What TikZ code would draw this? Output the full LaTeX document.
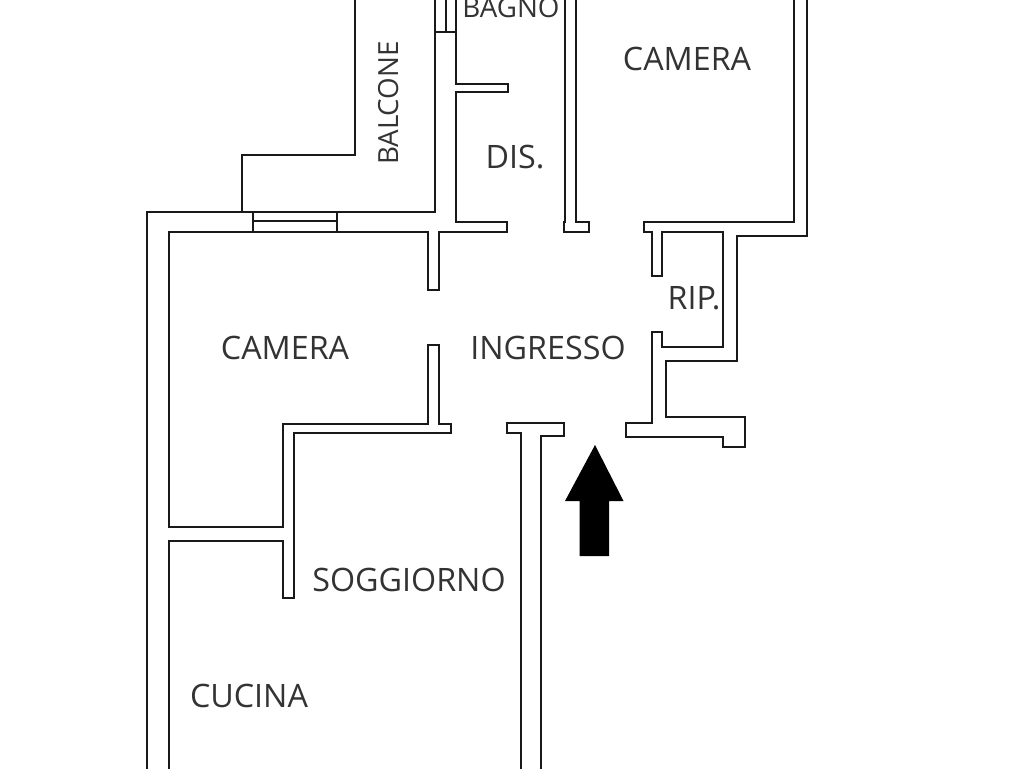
\documentclass[tikz,border=0pt]{standalone}
\usepackage{fontspec}
\setmainfont{Open Sans}
\tikzset{
	wall/.style={draw=black!90,line width=1.7pt,line join=miter},
	roomlabel/.style={text=black!80,inner sep=0pt,anchor=base,font=\fontsize{24.2}{26}\selectfont},
	smalllabel/.style={roomlabel,font=\fontsize{20.8}{22}\selectfont},
	entryarrow/.style={fill=black,draw=none}
}
\begin{document}
\begin{tikzpicture}[x=0.75pt,y=-0.75pt]
		\useasboundingbox (0,0) rectangle (1024,768);
		\fill[white] (0,0) rectangle (1024,768);
		\clip (0,0) rectangle (1024,768);
		\draw[wall] (355,-5) -- (355,155) -- (242,155) -- (242,212);
		\draw[wall] (147,775) -- (147,212) -- (435,212) -- (435,-5);
		\draw[wall] (253,212) -- (253,232);
		\draw[wall] (337,212) -- (337,232);
		\draw[wall] (253,221) -- (337,221);
		\draw[wall] (446,-5) -- (446,32);
		\draw[wall] (435,32) -- (456,32);
		\draw[wall] (456,-5) -- (456,84) -- (508,84) -- (508,92) -- (456,92) -- (456,222) -- (507,222) -- (507,232) -- (439,232) -- (439,290) -- (428,290) -- (428,232) -- (169,232) -- (169,527) -- (283,527) -- (283,424) -- (428,424) -- (428,345) -- (439,345) -- (439,424) -- (451,424) -- (451,433) -- (294,433) -- (294,598) -- (283,598) -- (283,541) -- (169,541) -- (169,775);
		\draw[wall] (565,-5) -- (565,222) -- (564,222) -- (564,232) -- (589,232) -- (589,222) -- (576,222) -- (576,-5);
		\draw[wall] (794,-5) -- (794,222) -- (644,222) -- (644,232) -- (652,232) -- (652,276) -- (662,276) -- (662,232) -- (723,232) -- (723,347) -- (662,347) -- (662,332) -- (652,332) -- (652,423) -- (626,423) -- (626,437) -- (723,437) -- (723,447) -- (745,447) -- (745,417) -- (666,417) -- (666,361) -- (737,361) -- (737,236) -- (807,236) -- (807,-5);
		\draw[wall] (521,775) -- (521,433) -- (507,433) -- (507,423) -- (564,423) -- (564,436) -- (541,436) -- (541,775);
		\fill[entryarrow] (595,445) -- (623.5,501) -- (609,501) -- (609,556) -- (579.5,556) -- (579.5,501) -- (565,501) -- cycle;
		\node[smalllabel] (bagno) at (511,17) {BAGNO};
		\node[roomlabel] (cameraright) at (687,70) {CAMERA};
		\node[roomlabel] (dis) at (515,168) {DIS.};
		\node[roomlabel] (cameraleft) at (285,359) {CAMERA};
		\node[roomlabel] (ingresso) at (548,359) {INGRESSO};
		\node[roomlabel] (rip) at (694,309) {RIP.};
		\node[roomlabel] (soggiorno) at (409,591) {SOGGIORNO};
		\node[roomlabel] (cucina) at (249,707) {CUCINA};
		\node[smalllabel,rotate=90] (balcone) at (398,103) {BALCONE};
\end{tikzpicture}
\end{document}
